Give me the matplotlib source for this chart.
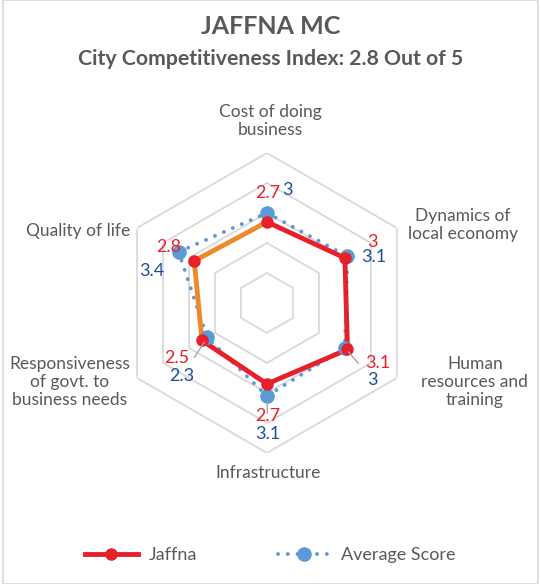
import numpy as np
import matplotlib
matplotlib.use("Agg")
import matplotlib.pyplot as plt
from matplotlib.lines import Line2D
from matplotlib.patches import Rectangle

# ---- data ----
categories = ["Cost of doing\nbusiness", "Dynamics of\nlocal economy",
              "Human\nresources and\ntraining", "Infrastructure",
              "Responsiveness\nof govt. to\nbusiness needs", "Quality of life"]
jaffna = [2.7, 3, 3.1, 2.7, 2.5, 2.8]
average = [3, 3.1, 3, 3.1, 2.3, 3.4]
jaffna_labels = ["2.7", "3", "3.1", "2.7", "2.5", "2.8"]
average_labels = ["3", "3.1", "3", "3.1", "2.3", "3.4"]
rings = [1, 2, 3, 4, 5]
title = "JAFFNA MC"
subtitle = "City Competitiveness Index: 2.8 Out of 5"

# ---- style ----
FONT = "Lato"
TXT = "#595959"
RED = "#E8202A"
ORANGE = "#EE8A2E"
BLUE = "#5B9BD5"
DBLUE = "#1F4E99"
GRID = "#D9D9D9"

plt.rcParams["font.family"] = [FONT, "DejaVu Sans"]

fig = plt.figure(figsize=(5.41, 5.84), dpi=100)
fig.patches.append(Rectangle((3 / 541, 0), 535 / 541, 1, transform=fig.transFigure,
                             fill=False, edgecolor=GRID, lw=1.2))

ax = fig.add_axes([0.2162, 0.2244, 0.5545, 0.5137], projection="polar")
ax.set_theta_zero_location("N")
ax.set_theta_direction(-1)
ax.set_ylim(0, 5)
ax.grid(False)
ax.set_xticks([])
ax.set_yticks([])
ax.spines["polar"].set_visible(False)
ax.patch.set_alpha(0)

n = len(categories)
theta = np.arange(n) * 2 * np.pi / n
theta_c = np.append(theta, theta[0])

for r in rings:
    ax.plot(theta_c, [r] * (n + 1), color=GRID, lw=1.3, zorder=1)

# Jaffna line segments (segments into points 5 and 0 are orange)
seg_colors = [ORANGE, RED, RED, RED, RED, ORANGE]  # segment ending at point i
for i in range(n):
    j = (i - 1) % n
    ax.plot([theta[j], theta[i]], [jaffna[j], jaffna[i]], color=seg_colors[i],
            lw=3.5, solid_capstyle="round", zorder=3)

# Average dotted line
avg_c = np.append(average, average[0])
ax.plot(theta_c, avg_c, color=BLUE, lw=2.8, linestyle=(0, (0.01, 2.5)),
        dash_capstyle="round", zorder=2)
ax.plot(theta, average, "o", color=BLUE, ms=9.5, zorder=4)
ax.plot(theta, jaffna, "o", color=RED, ms=8, zorder=5)

# data labels (offsets in pixels)
j_off = [(1, 29), (28, 16), (30, -14), (1, -32), (-25, -18), (-26, 14)]
a_off = [(20, 23), (26, -1), (28, -32), (1, -38), (-25, -39), (-27, -19)]
leader = [False, False, True, True, True, False]
for i in range(n):
    ax.annotate(jaffna_labels[i], (theta[i], jaffna[i]), xytext=j_off[i],
                textcoords="offset pixels", ha="center", va="center",
                color=RED, fontsize=13, zorder=6)
    kw = {}
    if leader[i]:
        kw["arrowprops"] = dict(arrowstyle="-", color="#A6A6A6", lw=1,
                                shrinkA=7, shrinkB=4)
    ax.annotate(average_labels[i], (theta[i], average[i]), xytext=a_off[i],
                textcoords="offset pixels", ha="center", va="center",
                color=DBLUE, fontsize=13, zorder=6, **kw)

# category labels
c_off = [(3, 32), (66, 3), (78, -4), (1, -20), (-67, -4), (-59, -3)]
for i in range(n):
    ax.annotate(categories[i], (theta[i], 5), xytext=c_off[i],
                textcoords="offset pixels", ha="center", va="center",
                color=TXT, fontsize=12.5, linespacing=1.17)

fig.text(0.5, 1 - 26 / 584, title, ha="center", va="center", fontsize=18,
         fontweight="bold", color=TXT)
fig.text(0.5, 1 - 59 / 584, subtitle, ha="center", va="center", fontsize=15.3,
         fontweight="bold", color=TXT)

handles = [
    Line2D([], [], color=RED, lw=3.5, marker="o", ms=8),
    Line2D([], [], color=BLUE, lw=2.8, linestyle=(0, (0.01, 2.5)),
           dash_capstyle="round", marker="o", ms=9.5),
]
fig.legend(handles, ["Jaffna", "Average Score"], loc="center",
           bbox_to_anchor=(0.5, 1 - 555 / 584), ncol=2, frameon=False,
           fontsize=13, labelcolor=TXT, handlelength=2.9, columnspacing=4.5,
           handletextpad=0.6)

fig.savefig("out.png", dpi=100)
